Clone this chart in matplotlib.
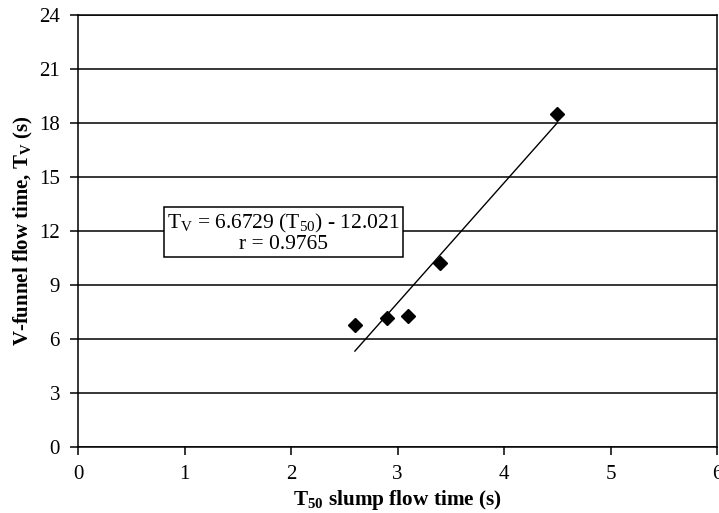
import matplotlib
matplotlib.use("Agg")
import matplotlib.pyplot as plt
import numpy as np

plt.rcParams['font.family'] = ['Liberation Serif', 'DejaVu Serif']
plt.rcParams['mathtext.fontset'] = 'custom'
plt.rcParams['mathtext.rm'] = 'Liberation Serif'
plt.rcParams['mathtext.bf'] = 'Liberation Serif:bold'
plt.rcParams['mathtext.it'] = 'Liberation Serif:italic'

# Measured flow times
t50 = [2.6, 2.9, 3.1, 3.4, 4.5]
tv = [6.8, 7.15, 7.3, 10.2, 18.5]

# Linear fit reported in the annotation
slope = 6.6729
intercept = -12.021
r_value = 0.9765

x_ticks = [0, 1, 2, 3, 4, 5, 6]
y_ticks = [0, 3, 6, 9, 12, 15, 18, 21, 24]

fig = plt.figure(figsize=(7.19, 5.13), dpi=100)
ax = fig.add_axes([78 / 719, 66 / 513, 639 / 719, 432 / 513])

ax.set_xlim(0, 6)
ax.set_ylim(0, 24)
ax.set_xticks(x_ticks)
ax.set_yticks(y_ticks)
ax.yaxis.grid(True, color='black', linewidth=1.1)
ax.set_axisbelow(True)

for s in ax.spines.values():
    s.set_color('black')
    s.set_linewidth(1.1)

ax.tick_params(axis='both', direction='out', length=6, width=1.1,
               labelsize=15, colors='black')
ax.tick_params(axis='y', pad=7)
ax.tick_params(axis='x', pad=7)

# Trend line over the range of the data
xf = np.array([min(t50), max(t50)])
ax.plot(xf, slope * xf + intercept, color='black', linewidth=1.0, zorder=3)

ax.plot(t50, tv, linestyle='none', marker='D', markersize=7.5,
        color='black', zorder=4)

ax.text(1.93, 11.9,
        r'T$_{\mathrm{V}}$ = %.4f (T$_{\mathrm{50}}$) - %.3f' % (slope, -intercept)
        + '\n' + 'r = %.4f' % r_value,
        fontsize=15.5, ha='center', va='center', linespacing=1.0,
        bbox=dict(boxstyle='square,pad=0.15', facecolor='white',
                  edgecolor='black', linewidth=1.1), zorder=5)

ax.set_xlabel(r'$\mathbf{T_{50}}$ slump flow time (s)', fontsize=15.3,
              fontweight='bold', labelpad=3)
ax.set_ylabel(r'V-funnel flow time, $\mathbf{T_{V}}$ (s)', fontsize=15,
              fontweight='bold', labelpad=3)

fig.savefig('out.png', dpi=100)
